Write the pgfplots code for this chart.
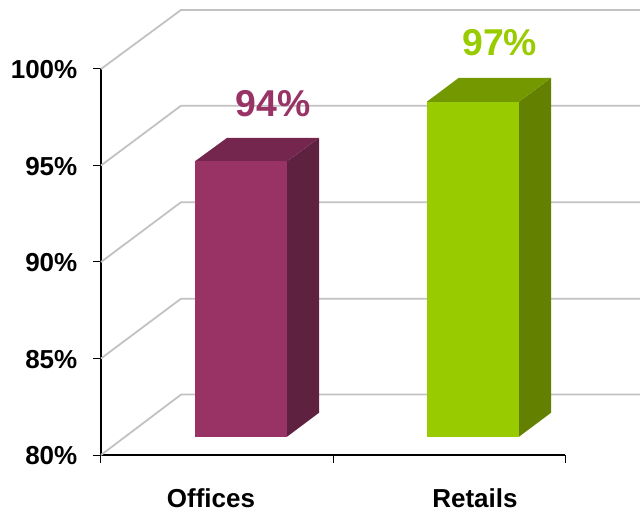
\documentclass[border=0pt]{standalone}
\usepackage{fontspec}
\setmainfont{Liberation Sans}
\usepackage{pgfplots}
\pgfplotsset{compat=1.18}
\definecolor{plumfront}{HTML}{993366}
\definecolor{plumtop}{HTML}{74264F}
\definecolor{plumside}{HTML}{5F2140}
\definecolor{limefront}{HTML}{99CC00}
\definecolor{limetop}{HTML}{749900}
\definecolor{limeside}{HTML}{648000}
\definecolor{wall}{HTML}{C2C2C2}
\begin{document}
\begin{tikzpicture}
\begin{axis}[
  scale only axis, width=464bp, height=386bp,
  xmin=0, xmax=2, ymin=80, ymax=100,
  clip=false,
  axis lines*=left,
  axis line style={line width=1.5bp, black},
  tick style={line width=1bp, black},
  tick align=outside, major tick length=7.5bp,
  xtick={0,1,2}, xticklabels={},
  extra x ticks={0.474,1.612},
  extra x tick labels={Offices,Retails},
  extra x tick style={major tick length=0pt,
    tick label style={font=\fontsize{26.1}{30}\selectfont\bfseries, yshift=-30bp, xshift=0bp, text height=19bp, text depth=0pt}},
  ytick={80,85,90,95,100},
  yticklabels={80\%,85\%,90\%,95\%,100\%},
  yticklabel style={font=\fontsize{26.1}{30}\selectfont\bfseries, inner sep=0pt, xshift=-16bp, yshift=-0.6bp},
]
% side walls and back wall of the chart box
\addplot[wall, line width=1.8bp] coordinates {(0,80) (0.345,83.13) (2.323,83.13)};
\addplot[wall, line width=1.8bp] coordinates {(0,85) (0.345,88.1) (2.323,88.1)};
\addplot[wall, line width=1.8bp] coordinates {(0,90) (0.345,93.1) (2.323,93.1)};
\addplot[wall, line width=1.8bp] coordinates {(0,95) (0.345,98.1) (2.323,98.1)};
\addplot[wall, line width=1.8bp] coordinates {(0,100) (0.345,103.06) (2.323,103.06)};
% Offices: front, top and side faces, floor raised by 0.95 for the depth offset
\addplot[fill=plumside, draw=none] coordinates {(0.802,80.95) (0.94,82.19) (0.94,96.43) (0.802,95.22)} -- cycle;
\addplot[fill=plumtop, draw=none] coordinates {(0.405,95.22) (0.802,95.22) (0.94,96.43) (0.543,96.43)} -- cycle;
\addplot[fill=plumfront, draw=none] coordinates {(0.405,80.95) (0.802,80.95) (0.802,95.22) (0.405,95.22)} -- cycle;
% Retails
\addplot[fill=limeside, draw=none] coordinates {(1.802,80.95) (1.94,82.19) (1.94,99.54) (1.802,98.30)} -- cycle;
\addplot[fill=limetop, draw=none] coordinates {(1.404,98.30) (1.802,98.30) (1.94,99.54) (1.542,99.54)} -- cycle;
\addplot[fill=limefront, draw=none] coordinates {(1.404,80.95) (1.802,80.95) (1.802,98.30) (1.404,98.30)} -- cycle;
\node[text=plumfront, font=\fontsize{37.5}{40}\selectfont\bfseries, inner sep=0pt] at (axis cs:0.741,98.22) {94\%};
\node[text=limefront, font=\fontsize{37.5}{40}\selectfont\bfseries, inner sep=0pt] at (axis cs:1.719,101.37) {97\%};
\end{axis}
\pgfresetboundingbox
\path[use as bounding box] (-101bp,-57bp) rectangle (539bp,455bp);
\end{tikzpicture}
\end{document}
